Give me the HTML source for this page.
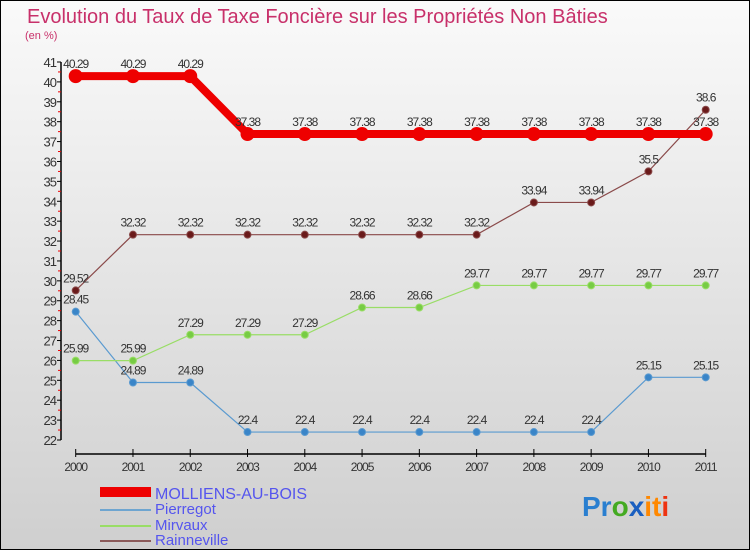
<!DOCTYPE html>
<html><head><meta charset="utf-8"><style>
body{margin:0;}
svg{display:block;font-family:"Liberation Sans",sans-serif;}
</style></head><body>
<svg id="chart" width="750" height="550" xmlns="http://www.w3.org/2000/svg">
<defs><linearGradient id="bg" x1="0" y1="0" x2="0" y2="1"><stop offset="0" stop-color="#fafafa"/><stop offset="1" stop-color="#cfcfcf"/></linearGradient></defs>
<rect x="0.5" y="0.5" width="749" height="549" fill="url(#bg)" stroke="#000"/>
<text x="27" y="23" font-size="20" fill="#c8306a">Evolution du Taux de Taxe Foncière sur les Propriétés Non Bâties</text>
<text x="25" y="39" font-size="11" fill="#c8306a">(en %)</text>
<g id="axes"></g><g id="series"></g>
<g>
<rect x="100" y="487" width="51" height="10" fill="#e00"/>
<text x="155" y="499" font-size="16" fill="#5555ee">MOLLIENS-AU-BOIS</text>
<line x1="100" y1="510" x2="151" y2="510" stroke="#6ea5d0" stroke-width="2"/>
<text x="155" y="514" font-size="15" fill="#5555ee">Pierregot</text>
<line x1="100" y1="526" x2="151" y2="526" stroke="#99dd66" stroke-width="2"/>
<text x="155" y="530" font-size="15" fill="#5555ee">Mirvaux</text>
<line x1="100" y1="541" x2="151" y2="541" stroke="#8a5a5a" stroke-width="2"/>
<text x="155" y="545" font-size="15" fill="#5555ee">Rainneville</text>
</g>
<g font-size="28" font-weight="bold">
<text x="582" y="516"><tspan fill="#2a7fd0">Pr</tspan><tspan fill="#44aa22">o</tspan><tspan fill="#1a5fc0">x</tspan><tspan fill="#ff8800">it</tspan><tspan fill="#ee3311">i</tspan></text>
</g>
</svg>
<script>
const years=[2000,2001,2002,2003,2004,2005,2006,2007,2008,2009,2010,2011];
const molliens=[40.29,40.29,40.29,37.38,37.38,37.38,37.38,37.38,37.38,37.38,37.38,37.38];
const pierregot=[28.45,24.89,24.89,22.4,22.4,22.4,22.4,22.4,22.4,22.4,25.15,25.15];
const mirvaux=[25.99,25.99,27.29,27.29,27.29,28.66,28.66,29.77,29.77,29.77,29.77,29.77];
const rainneville=[29.52,32.32,32.32,32.32,32.32,32.32,32.32,32.32,33.94,33.94,35.5,38.6];
const yTicks=[22,23,24,25,26,27,28,29,30,31,32,33,34,35,36,37,38,39,40,41];
const NS="http://www.w3.org/2000/svg";
const xS=i=>75.7+i*(705.7-75.7)/(years.length-1);
const yS=v=>440-(v-22)*(440-62)/19;
function mk(tag,attrs,parent){const e=document.createElementNS(NS,tag);for(const k in attrs)e.setAttribute(k,attrs[k]);parent.appendChild(e);return e;}
const ax=document.getElementById('axes');
let l=mk('line',{x1:61,y1:yS(41),x2:61,y2:yS(22),stroke:'#000','stroke-width':1.5},ax);


yTicks.forEach(v=>{
  let t=mk('line',{x1:57,x2:61,y1:yS(v),y2:yS(v),stroke:'#000'},ax);
  
  
  if(v<41){let h=mk('line',{x1:58,x2:61,y1:yS(v+0.5),y2:yS(v+0.5),stroke:'#e00'},ax);
  
  }
  let tx=mk('text',{x:56,y:yS(v)+5,'font-size':13,'text-anchor':'end',fill:'#333','letter-spacing':'-1'},ax);
  tx.textContent=v;
  
  
});
l=mk('line',{x1:xS(0),y1:454,x2:xS(11),y2:454,stroke:'#000','stroke-width':1.5},ax);


years.forEach((y,i)=>{
  let t=mk('line',{x1:xS(i),x2:xS(i),y1:449,y2:457,stroke:'#000'},ax);
  
  
  let tx=mk('text',{x:xS(i),y:471,'font-size':12,'text-anchor':'middle',fill:'#333','letter-spacing':'-1'},ax);
  tx.textContent=y;
  
  
});
const sg=document.getElementById('series');
function draw(data,name,color,dot,w,r){
  const g=mk('g',{},sg);
  
  
  const p=mk('polyline',{points:data.map((v,i)=>xS(i)+','+yS(v)).join(' '),fill:'none',stroke:color,'stroke-width':w},g);
  
  
  data.forEach((v,i)=>{
    const c=mk('circle',{cx:xS(i),cy:yS(v),r:r,fill:dot,stroke:color,'stroke-width':1},g);
    
    
    const t=mk('text',{x:xS(i),y:yS(v)-8,'font-size':12,'text-anchor':'middle',fill:'#333','letter-spacing':'-1'},g);
    t.textContent=String(v).replace('.', '.');
    
    
  });
}
draw(pierregot,'pierregot','#5a9ad0','#3a85c8',1.2,3.5);
draw(mirvaux,'mirvaux','#99dd66','#77cc44',1.2,3.5);
draw(rainneville,'rainneville','#8a4a4a','#6a1a1a',1.2,3.5);
draw(molliens,'molliens','#ee0000','#ee0000',8,6.5);
</script>
</body></html>
